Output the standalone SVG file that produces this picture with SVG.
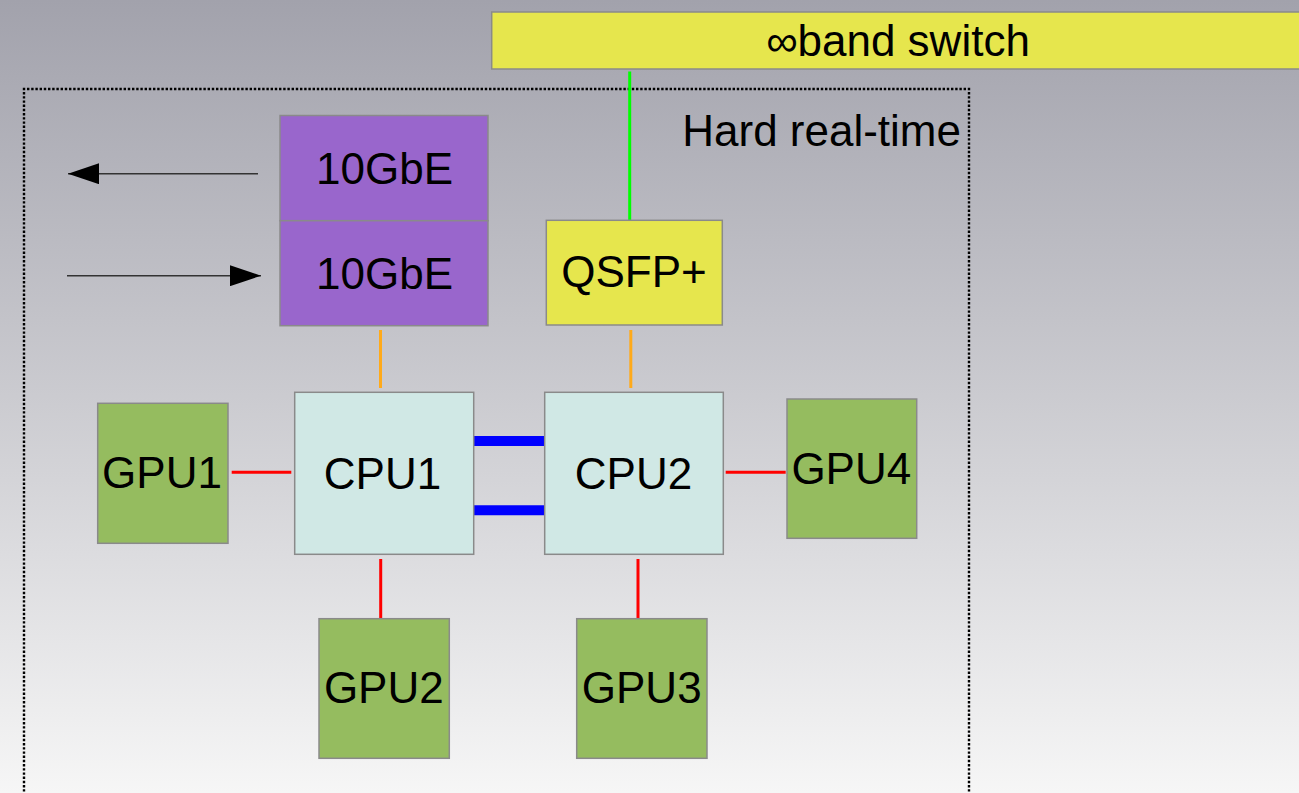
<svg xmlns="http://www.w3.org/2000/svg" width="1299" height="793" viewBox="0 0 1299 793">
<defs>
<linearGradient id="bg" x1="0" y1="0" x2="0" y2="1">
<stop offset="0" stop-color="#a2a2ac"/>
<stop offset="0.5" stop-color="#cbcbd0"/>
<stop offset="1" stop-color="#f6f6f6"/>
</linearGradient>
<marker id="ah" markerUnits="userSpaceOnUse" markerWidth="31" markerHeight="21" refX="31" refY="10.5" orient="auto">
<path d="M0,0 L31,10.5 L0,21 Z" fill="#000"/>
</marker>
<style>
.box{stroke:#8a8a8a;stroke-width:1.5}
.sw{fill:#e6e64d}
.eth{fill:#9966cc}
.cpu{fill:#d0e8e5}
.gpu{fill:#95bc5f}
.t{font-family:"Liberation Sans",Arial,sans-serif;font-size:44px;fill:#000;text-anchor:middle}
.red{stroke:#ff0000;stroke-width:3}
.org{stroke:#ffaa1a;stroke-width:3}
.blu{stroke:#0000ff;stroke-width:10}
.arr{stroke:#333;stroke-width:1.5;fill:none}
</style>
</defs>
<rect x="0" y="0" width="1299" height="793" fill="url(#bg)"/>
<g id="hard-real-time">
<path d="M24,800 L24,89 L969,89 L969,800" fill="none" stroke="#000" stroke-width="2.4" stroke-dasharray="2.4 1.8"/>
<text class="t" x="961" y="145.7" style="text-anchor:end">Hard real-time</text>
</g>
<g id="connectors">
<line class="arr" x1="258" y1="173.7" x2="68" y2="173.7" marker-end="url(#ah)"/>
<line class="arr" x1="67" y1="275.7" x2="261" y2="275.7" marker-end="url(#ah)"/>
<line x1="629.7" y1="71.5" x2="629.7" y2="220.5" stroke="#00ff00" stroke-width="3"/>
<line class="org" x1="380.5" y1="330" x2="380.5" y2="388"/>
<line class="org" x1="630.8" y1="330" x2="630.8" y2="388"/>
<line class="red" x1="231.7" y1="472.3" x2="291.3" y2="472.3"/>
<line class="red" x1="725.7" y1="472.3" x2="785.7" y2="472.3"/>
<line class="red" x1="380.7" y1="559" x2="380.7" y2="618.7"/>
<line class="red" x1="638" y1="559" x2="638" y2="618.7"/>
<line class="blu" x1="473.7" y1="441" x2="545.5" y2="441"/>
<line class="blu" x1="473.7" y1="510.3" x2="545.5" y2="510.3"/>
</g>
<g id="switch">
<rect class="box sw" x="491.7" y="12" width="815" height="57"/>
<text class="t" x="898" y="56">∞band switch</text>
</g>
<g id="eth1">
<rect class="box eth" x="280" y="115.5" width="208" height="105.2"/>
<text class="t" x="384.5" y="184">10GbE</text>
</g>
<g id="eth2">
<rect class="box eth" x="280" y="220.7" width="208" height="105"/>
<text class="t" x="384.5" y="289">10GbE</text>
</g>
<g id="qsfp">
<rect class="box sw" x="546.3" y="220.3" width="176" height="104.7"/>
<text class="t" x="634" y="287.3">QSFP+</text>
</g>
<g id="cpu1">
<rect class="box cpu" x="294.7" y="392.3" width="179" height="162"/>
<text class="t" x="382.5" y="489">CPU1</text>
</g>
<g id="cpu2">
<rect class="box cpu" x="544.7" y="392.3" width="178.6" height="162"/>
<text class="t" x="633.5" y="489">CPU2</text>
</g>
<g id="gpu1">
<rect class="box gpu" x="97.7" y="403.3" width="130.3" height="140"/>
<text class="t" x="162" y="488.3">GPU1</text>
</g>
<g id="gpu4">
<rect class="box gpu" x="787" y="399" width="129.7" height="139.3"/>
<text class="t" x="851.3" y="484">GPU4</text>
</g>
<g id="gpu2">
<rect class="box gpu" x="319" y="618.7" width="130.3" height="139.6"/>
<text class="t" x="383.8" y="703.3">GPU2</text>
</g>
<g id="gpu3">
<rect class="box gpu" x="576.7" y="618.7" width="130.3" height="139.6"/>
<text class="t" x="641.7" y="703.3">GPU3</text>
</g>
</svg>
